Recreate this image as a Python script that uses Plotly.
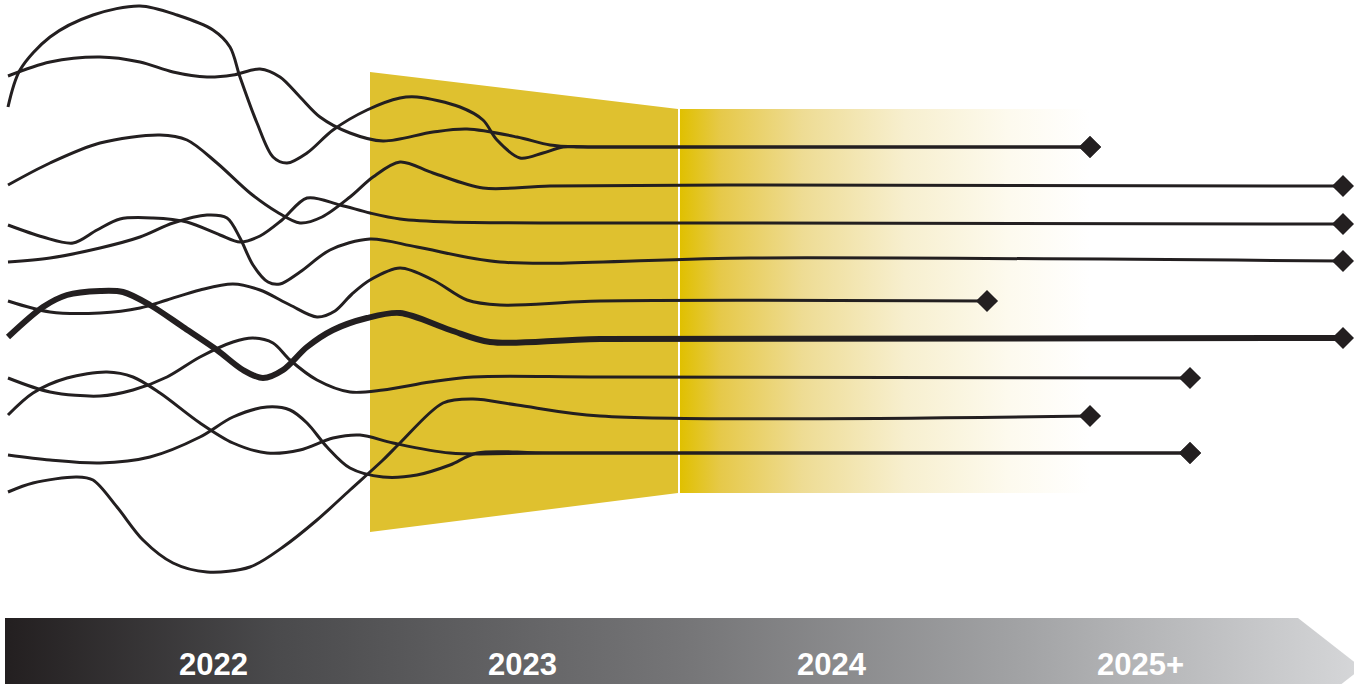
import plotly.graph_objects as go

# ---- canvas / period geometry (pixel-like units) ----
W, H = 1354, 684
TRAP_X = [370, 678, 678, 370]
TRAP_Y = [72, 109, 493, 532]
FADE_X = [680, 1090, 1090, 680]
FADE_Y = [109, 109, 493, 493]
BAR_X = [5, 1298, 1362, 1298, 5]
BAR_Y = [618, 618, 668, 718, 718]

YEAR_LABELS = ["2022", "2023", "2024", "2025+"]
YEAR_POS = [213, 522, 832, 1140]
YEAR_Y = 664

# ---- paths (control points) ----
A_x = [8, 20, 50, 93, 140, 177, 213, 230, 240, 257, 273, 287, 307, 333, 367, 400, 417, 460, 483, 497, 520, 543, 563, 600, 1090]
A_y = [107, 70, 37, 15, 6, 15, 30, 47, 77, 123, 157, 163, 153, 130, 110, 98, 97, 107, 120, 140, 158, 153, 147, 147, 147]
B_x = [8, 50, 100, 140, 173, 207, 233, 260, 280, 300, 320, 350, 383, 433, 467, 517, 550, 577, 600, 1090]
B_y = [76, 62, 57, 62, 72, 77, 75, 69, 77, 97, 117, 133, 141, 132, 129, 137, 145, 147, 147, 147]
C_x = [8, 50, 100, 160, 187, 217, 250, 277, 300, 322, 350, 373, 400, 433, 483, 550, 750, 1343]
C_y = [185, 163, 143, 135, 140, 163, 193, 212, 223, 217, 197, 177, 162, 173, 188, 186, 185, 186]
D_x = [8, 43, 73, 97, 120, 153, 187, 220, 240, 260, 282, 307, 340, 370, 400, 450, 750, 1343]
D_y = [225, 237, 243, 230, 219, 218, 222, 235, 242, 236, 220, 198, 205, 213, 219, 222, 223, 224]
E_x = [8, 50, 100, 140, 173, 207, 227, 240, 253, 268, 280, 300, 330, 370, 417, 500, 750, 1343]
E_y = [262, 258, 248, 237, 223, 215, 218, 238, 265, 282, 284, 272, 250, 239, 247, 262, 258, 261]
F_x = [8, 50, 100, 140, 167, 200, 233, 260, 290, 317, 335, 352, 370, 400, 433, 467, 500, 600, 987]
F_y = [301, 312, 313, 308, 300, 290, 284, 290, 305, 317, 311, 294, 280, 268, 280, 300, 305, 301, 301]
G_x = [8, 43, 67, 100, 123, 150, 183, 217, 243, 263, 283, 307, 333, 367, 400, 450, 490, 600, 1343]
G_y = [337, 307, 295, 291, 292, 305, 327, 350, 370, 378, 370, 347, 330, 318, 313, 330, 342, 339, 338]
H_x = [8, 50, 100, 133, 167, 200, 233, 253, 273, 290, 317, 350, 383, 430, 473, 600, 1190]
H_y = [378, 392, 396, 390, 377, 357, 342, 338, 343, 360, 380, 392, 390, 382, 377, 377, 378]
I_x = [8, 33, 67, 107, 133, 160, 200, 233, 267, 300, 333, 360, 393, 450, 550, 1190]
I_y = [415, 393, 378, 372, 377, 393, 423, 443, 453, 450, 438, 435, 443, 453, 453, 453]
J_x = [8, 50, 100, 150, 200, 233, 267, 290, 307, 327, 350, 383, 417, 450, 477, 550, 1190]
J_y = [455, 460, 463, 457, 437, 417, 407, 410, 423, 447, 468, 477, 475, 465, 453, 453, 453]
K_x = [8, 33, 77, 93, 117, 143, 173, 207, 250, 283, 317, 350, 383, 400, 443, 473, 517, 600, 1090]
K_y = [492, 483, 477, 480, 507, 540, 563, 572, 567, 547, 520, 490, 460, 443, 403, 399, 405, 416, 416]

PATHS = [(A_x, A_y, 3), (B_x, B_y, 3), (C_x, C_y, 3), (D_x, D_y, 3),
         (E_x, E_y, 3), (F_x, F_y, 3), (G_x, G_y, 6), (H_x, H_y, 3),
         (I_x, I_y, 3), (J_x, J_y, 3), (K_x, K_y, 3)]

INK = "#231f20"
fig = go.Figure()

# yellow trapezoid
fig.add_trace(go.Scatter(x=TRAP_X, y=TRAP_Y, fill="toself", mode="none",
                         fillcolor="#dfc12f", hoverinfo="skip"))
# fading band
fig.add_trace(go.Scatter(x=FADE_X, y=FADE_Y, fill="toself", mode="none",
                         fillgradient=dict(type="horizontal", colorscale=[
                             [0, "#e0c000"], [0.1, "#e6c94a"], [0.3, "#eedc94"],
                             [0.55, "#f7efcf"], [0.8, "#fdfaee"], [1, "#ffffff"]]),
                         hoverinfo="skip"))
# timeline arrow bar
fig.add_trace(go.Scatter(x=BAR_X, y=BAR_Y, fill="toself", mode="none",
                         fillgradient=dict(type="horizontal", colorscale=[
                             [0, "#231f20"], [0.2, "#4a4a4c"], [0.5, "#757577"],
                             [0.75, "#a2a3a5"], [1, "#d6d7d9"]]),
                         hoverinfo="skip"))

for xs, ys, w in PATHS:
    fig.add_trace(go.Scatter(x=xs, y=ys, mode="lines",
                             line=dict(color=INK, width=w, shape="spline", smoothing=0.9),
                             hoverinfo="skip"))

end_x = [p[0][-1] for p in PATHS]
end_y = [p[1][-1] for p in PATHS]
fig.add_trace(go.Scatter(x=end_x, y=end_y, mode="markers",
                         marker=dict(symbol="diamond", size=17, color=INK),
                         hoverinfo="skip"))

for lab, px in zip(YEAR_LABELS, YEAR_POS):
    fig.add_annotation(x=px, y=YEAR_Y, text=lab, showarrow=False,
                       font=dict(family="Liberation Sans Narrow, Liberation Sans, sans-serif",
                                 size=31, color="white", weight="bold"),
                       xanchor="center", yanchor="middle")

fig.update_layout(width=W, height=H, margin=dict(l=0, r=0, t=0, b=0),
                  paper_bgcolor="white", plot_bgcolor="white", showlegend=False,
                  xaxis=dict(range=[0, W], visible=False, fixedrange=True),
                  yaxis=dict(range=[H, 0], visible=False, fixedrange=True))
fig.write_html("out.html", config={"displayModeBar": False},
               post_script="document.body.style.margin='0';document.body.style.overflow='hidden';")
